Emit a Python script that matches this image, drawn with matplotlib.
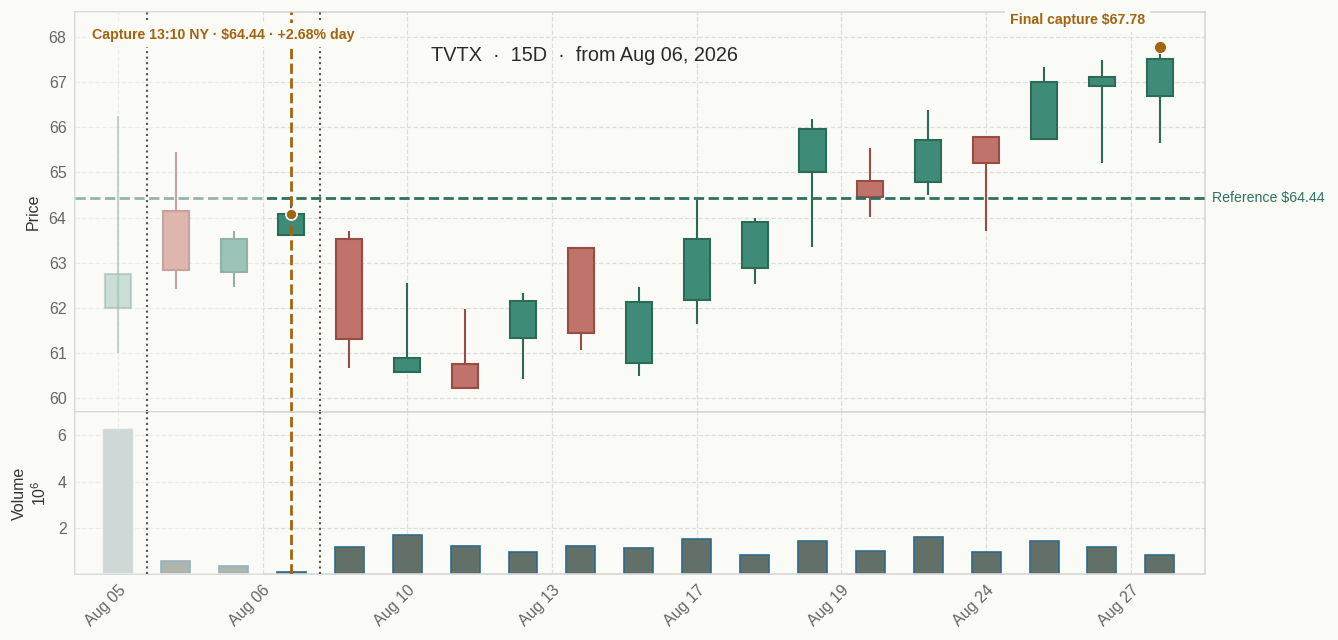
import matplotlib
matplotlib.use('Agg')
import matplotlib.pyplot as plt
from matplotlib.patches import Rectangle
import matplotlib.transforms as mtransforms

plt.rcParams['font.family'] = ['Liberation Sans', 'DejaVu Sans']
plt.rcParams['mathtext.default'] = 'regular'

# candles (index 0-2 are the faded context candles, 3 is the capture candle)
opens  = [61.99, 64.15, 62.79, 63.62, 63.53, 60.57, 60.75, 61.33, 63.33, 60.78,
          62.17, 62.88, 65.00, 64.82, 64.79, 65.79, 65.74, 66.91, 66.69]
closes = [62.76, 62.84, 63.52, 64.09, 61.30, 60.90, 60.22, 62.15, 61.44, 62.13,
          63.52, 63.90, 65.97, 64.45, 65.72, 65.20, 67.01, 67.12, 67.51]
highs  = [66.25, 65.45, 63.70, 64.40, 63.70, 62.56, 61.97, 62.33, 63.33, 62.46,
          64.39, 63.99, 66.18, 65.54, 66.38, 65.79, 67.34, 67.48, 67.62]
lows   = [61.00, 62.42, 62.47, 63.60, 60.67, 60.56, 60.22, 60.42, 61.06, 60.49,
          61.64, 62.53, 63.35, 64.02, 64.50, 63.71, 65.74, 65.21, 65.66]
volumes = [6.29, 0.58, 0.33, 0.10, 1.18, 1.70, 1.23, 0.97, 1.23, 1.14,
           1.50, 0.84, 1.45, 1.01, 1.59, 0.97, 1.45, 1.16, 0.84]  # x 1e6

tick_pos = [0, 2.5, 5, 7.5, 10, 12.5, 15, 17.5]
tick_labels = ['Aug 05', 'Aug 06', 'Aug 10', 'Aug 13', 'Aug 17', 'Aug 19', 'Aug 24', 'Aug 27']

ref_price = 64.44
capture_idx = 3
capture_price = 64.09
final_price = 67.78

BG = '#fafaf7'
UP_FILL, UP_EDGE = '#3e8c77', '#2b6a57'
DN_FILL, DN_EDGE = '#c0736a', '#9a4b44'
ORANGE = '#a3640f'
GRID = '#dedede'
SPINE = '#d6d6d6'

fig = plt.figure(figsize=(13.38, 6.4), dpi=100, facecolor=BG)
ax = fig.add_axes([0.056, 0.356, 0.8446, 0.625], facecolor=BG)
axv = fig.add_axes([0.056, 0.103, 0.8446, 0.253], facecolor=BG, sharex=ax)

xmin, xmax = -0.74, 18.78

# candles
for i in range(len(opens)):
    o, c, h, l = opens[i], closes[i], highs[i], lows[i]
    up = c >= o
    fill = UP_FILL if up else DN_FILL
    edge = UP_EDGE if up else DN_EDGE
    a = 0.5 if i == 0 else 1.0
    ax.plot([i, i], [l, h], color=edge, lw=1.5, alpha=a, zorder=2, solid_capstyle='butt')
    ax.add_patch(Rectangle((i - 0.225, min(o, c)), 0.45, abs(c - o),
                           facecolor=fill, edgecolor=edge, lw=1.5, alpha=a, zorder=3))

# volume
for i, v in enumerate(volumes):
    if i == 0:
        axv.bar(i, v, width=0.5, color='#a4b4b8', edgecolor='#a6bcc8', lw=1.0, zorder=2)
    else:
        axv.bar(i, v, width=0.5, color='#637068', edgecolor='#2f6b8c', lw=1.2, zorder=2)

# reference line
ax.axhline(ref_price, color='#2e7060', lw=2, ls='--', zorder=4)
ax.text(1.006, ref_price, 'Reference $%.2f' % ref_price, color='#2e7060', fontsize=10.2,
        va='center', ha='left',
        transform=mtransforms.blended_transform_factory(ax.transAxes, ax.transData))

# fade overlay over context candles
for a_ in (ax, axv):
    a_.axvspan(xmin, 2.5, color=BG, alpha=0.5, lw=0, zorder=5)
    a_.axvline(0.5, color='#555555', lw=1.5, ls=':', zorder=6)
    a_.axvline(capture_idx + 0.5, color='#555555', lw=1.5, ls=':', zorder=6)
    a_.axvline(capture_idx, color=ORANGE, lw=2, ls='--', zorder=7)

# capture markers
ax.plot(capture_idx, capture_price, 'o', color=ORANGE, ms=8, mec='white', mew=1.2, zorder=8)
ax.plot(len(closes) - 1, final_price, 'o', color=ORANGE, ms=7, mec=ORANGE, zorder=8)

ax.text(0.015, 0.9425, 'Capture 13:10 NY · $64.44 · +2.68% day', transform=ax.transAxes,
        fontsize=10.2, fontweight='bold', color=ORANGE, ha='left', va='center', zorder=10,
        bbox=dict(boxstyle='square,pad=0.35', fc=BG, ec='none'))
ax.text(0.887, 0.98, 'Final capture $%.2f' % final_price, transform=ax.transAxes,
        fontsize=10.2, fontweight='bold', color=ORANGE, ha='center', va='center', zorder=10,
        bbox=dict(boxstyle='square,pad=0.35', fc=BG, ec='none'), clip_on=False)

ax.text(0.451, 0.892, 'TVTX  ·  15D  ·  from Aug 06, 2026', transform=ax.transAxes,
        fontsize=14.3, color='#2a2a2a', ha='center', va='center', zorder=9)

# axes styling
ax.set_xlim(xmin, xmax)
ax.set_ylim(59.69, 68.55)
ax.set_yticks(range(60, 69))
axv.set_ylim(0, 7)
axv.set_yticks([2, 4, 6])
axv.set_xticks(tick_pos)
axv.set_xticklabels(tick_labels, rotation=45, ha='right', rotation_mode='anchor')
ax.tick_params(labelbottom=False)

for a_ in (ax, axv):
    a_.grid(True, color=GRID, ls='--', lw=0.9, zorder=0)
    a_.set_axisbelow(True)
    a_.tick_params(length=0, labelsize=11.5, labelcolor='#666666', pad=6)
    for s in a_.spines.values():
        s.set_color(SPINE)
        s.set_linewidth(1.2)

ax.set_ylabel('Price', fontsize=11.5, color='#333333', labelpad=6)
axv.set_ylabel('Volume\n$10^6$', fontsize=11.5, color='#333333', labelpad=6)
fig.align_ylabels([ax, axv])

fig.savefig('out.png', dpi=100, facecolor=BG)
